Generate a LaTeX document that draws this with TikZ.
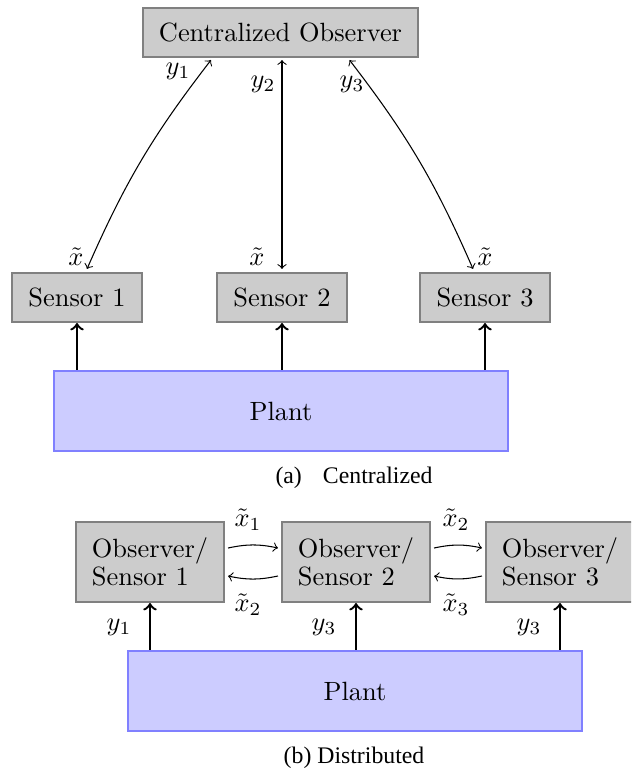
\documentclass[tikz,border=0pt]{standalone}
\usepackage{fontspec}
\newfontfamily\capfont{Liberation Serif}
\begin{document}
\def\s{0.3788pt}
\begin{tikzpicture}[x=0.3788pt,y=-0.3788pt,
  box/.style={draw=gray, fill=gray!40, line width=0.8pt, inner sep=0pt},
  plantbox/.style={draw=blue!50, fill=blue!20, line width=0.8pt, inner sep=0pt,
     minimum width={454*\s}, minimum height={80*\s}},
  sensbox/.style={box, minimum width={130*\s}, minimum height={49*\s}},
  obsbox/.style={box, minimum width={148*\s}, minimum height={80*\s}, align=left},
  sig/.style={->, line width=0.9pt},
  link/.style={<->, thin},
  lab/.style={inner sep=0pt},
  captxt/.style={font=\capfont\fontsize{9}{11}\selectfont, inner sep=0pt}]
\useasboundingbox (0,0) rectangle (631,771);
\clip (0,0) rectangle (631,771);

% (a) Centralized
\node[box, minimum width={275*\s}, minimum height={49*\s}] (co) at (280.5,32.5) {Centralized Observer};
\node[sensbox] (s1) at (77,297.5) {Sensor 1};
\node[sensbox] (s2) at (282,297.5) {Sensor 2};
\node[sensbox] (s3) at (485,297.5) {Sensor 3};
\node[plantbox] (pa) at (281,411) {Plant};

\draw[sig] (pa.north -| s1.south) -- (s1.south);
\draw[sig] (pa.north -| s2.south) -- (s2.south);
\draw[sig] (pa.north -| s3.south) -- (s3.south);

\coordinate (c1) at ([xshift={-69.5*\s}, yshift={-2*\s}]co.south);
\coordinate (c3) at ([xshift={69*\s}, yshift={-2*\s}]co.south);
\coordinate (t1) at ([xshift={10*\s}, yshift={3*\s}]s1.north);
\coordinate (t3) at ([xshift={-12*\s}, yshift={3*\s}]s3.north);
\draw[link] (c1) to[bend right=7] (t1);
\draw[link] ([yshift={-2*\s}]co.south -| s2.north) -- ([yshift={3*\s}]s2.north);
\draw[link] (c3) to[bend left=7] (t3);

\node[lab] (ly1) at (178,71) {$y_1$};
\node[lab] (ly2) at (263,84) {$y_2$};
\node[lab] (ly3) at (352,84) {$y_3$};
\node[lab] (lx1) at (76,257) {$\tilde{x}$};
\node[lab] (lx2) at (257,257) {$\tilde{x}$};
\node[lab] (lx3) at (485,257) {$\tilde{x}$};

\node[captxt] (capa) at (354,478) {(a)\hspace{8pt}Centralized};

% (b) Distributed
\node[obsbox] (o1) at (150,562) {Observer/\\[-1.5pt]Sensor 1};
\node[obsbox] (o2) at (356,562) {Observer/\\[-1.5pt]Sensor 2};
\node[obsbox] (o3) at (560,562) {Observer/\\[-1.5pt]Sensor 3};
\node[plantbox] (pb) at (355,691) {Plant};

\draw[sig] (pb.north -| o1.south) -- (o1.south);
\draw[sig] (pb.north -| o2.south) -- (o2.south);
\draw[sig] (pb.north -| o3.south) -- (o3.south);

\draw[->, thin] ([xshift={3*\s}, yshift={14*\s}]o1.east) to[bend left=12] ([xshift={-3*\s}, yshift={14*\s}]o2.west);
\draw[->, thin] ([xshift={-3*\s}, yshift={-14*\s}]o2.west) to[bend left=12] ([xshift={3*\s}, yshift={-14*\s}]o1.east);
\draw[->, thin] ([xshift={3*\s}, yshift={14*\s}]o2.east) to[bend left=12] ([xshift={-3*\s}, yshift={14*\s}]o3.west);
\draw[->, thin] ([xshift={-3*\s}, yshift={-14*\s}]o3.west) to[bend left=12] ([xshift={3*\s}, yshift={-14*\s}]o2.east);

\node[lab] (lb1) at (248,520) {$\tilde{x}_1$};
\node[lab] (lb2) at (248,605) {$\tilde{x}_2$};
\node[lab] (lb3) at (456,520) {$\tilde{x}_2$};
\node[lab] (lb4) at (456,605) {$\tilde{x}_3$};
\node[lab] (ly4) at (119,627) {$y_1$};
\node[lab] (ly5) at (324,627) {$y_3$};
\node[lab] (ly6) at (529,627) {$y_3$};

\node[captxt] (capb) at (354,758) {(b) Distributed};
\end{tikzpicture}
\end{document}
